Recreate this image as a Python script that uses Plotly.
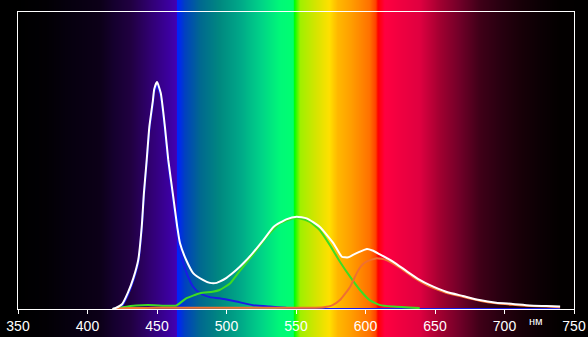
import base64, struct, zlib
import plotly.graph_objects as go

# ---------------- data ----------------
white_wl = [418, 420, 425, 429, 433, 436.5, 439, 440.6, 442.6, 444.5, 447, 448, 450, 452.7, 455.7, 458.1,
            461.3, 464.6, 466.5, 471, 476, 483, 488, 493, 495, 500, 507, 513, 519, 526.5, 534, 543,
            550.5, 557.7, 567, 577, 583, 587.6, 591, 596, 601, 605, 610, 620, 630, 639, 646, 658,
            670, 682, 694, 706, 718, 730, 740]
white_val = [0.0, 0.003, 0.017, 0.054, 0.104, 0.165, 0.276, 0.391, 0.502, 0.613, 0.70, 0.74, 0.764, 0.727,
             0.613, 0.502, 0.391, 0.276, 0.222, 0.165, 0.121, 0.098, 0.088, 0.088, 0.092, 0.105, 0.131,
             0.158, 0.189, 0.232, 0.277, 0.302, 0.311, 0.305, 0.277, 0.221, 0.176, 0.174, 0.182, 0.193,
             0.202, 0.197, 0.185, 0.159, 0.126, 0.098, 0.081, 0.058, 0.044, 0.030, 0.021, 0.017, 0.012,
             0.010, 0.008]

blue_wl = [418, 425, 429, 433, 436.5, 439, 440.6, 442.6, 444.5, 447, 448, 450, 452.7, 455.7, 458.1, 461.3,
           464.6, 467, 471.4, 476, 481, 488, 495, 507, 519, 531, 543, 553, 565, 740]
blue_val = [0.0, 0.012, 0.047, 0.096, 0.156, 0.266, 0.381, 0.492, 0.603, 0.69, 0.73, 0.752, 0.715, 0.60,
            0.488, 0.375, 0.255, 0.19, 0.12, 0.075, 0.053, 0.04, 0.036, 0.025, 0.013, 0.008, 0.004, 0.002,
            0.0, 0.0]

green_wl = [418, 425, 435, 448, 455, 464, 471, 481, 490, 495, 502.5, 510, 519, 529, 538.5, 548, 553, 560,
            567, 574.4, 581.6, 589, 596, 603, 610.5, 620, 639]
green_val = [0.0, 0.006, 0.012, 0.013, 0.011, 0.012, 0.036, 0.053, 0.058, 0.064, 0.086, 0.131, 0.182, 0.243,
             0.288, 0.305, 0.305, 0.293, 0.266, 0.215, 0.159, 0.108, 0.064, 0.030, 0.013, 0.008, 0.003]

red_wl = [418, 430, 450, 500, 560, 570, 576, 581.6, 589, 593.6, 597, 601, 608, 615, 625, 634, 646, 658, 670,
          682, 694, 706, 718, 730, 740]
red_val = [0.0, 0.003, 0.004, 0.004, 0.004, 0.006, 0.012, 0.03, 0.075, 0.12, 0.145, 0.16, 0.171, 0.165,
           0.138, 0.108, 0.076, 0.055, 0.041, 0.028, 0.019, 0.014, 0.010, 0.008, 0.006]

x_ticks = [350, 400, 450, 500, 550, 600, 650, 700, 750]
unit_label = "нм"

# background spectrum colour stops (wavelength, colour)
bg_wl = [300, 350, 370, 390, 409, 420, 431, 445, 459, 464, 464.6, 470, 481, 495, 510, 524, 538.5, 548, 549,
         553, 565, 574, 580, 589, 603, 607.5, 609, 614, 625, 639, 654, 668, 682, 697, 711, 725, 740, 800]
bg_col = ["#000000", "#000000", "#020004", "#070010", "#0c0018", "#160030", "#200040", "#300070", "#3c00a0",
          "#4200b4", "#0020ff", "#0040c0", "#006890", "#008880", "#00a888", "#00d088", "#00f878", "#00ff70",
          "#00ff00", "#9ff000", "#d8e400", "#ffe000", "#ffb800", "#ffa000", "#ff7000", "#ff4000", "#ff0000",
          "#ff0040", "#f00040", "#e00040", "#a00030", "#700028", "#400018", "#280010", "#180008", "#0c0004",
          "#030000", "#000000"]

# ---------------- layout geometry ----------------
FIG_W, FIG_H = 588, 337
ML, MR, MT, MB = 18, 14, 12, 28
PW, PH = FIG_W - ML - MR, FIG_H - MT - MB
X0, X1 = 350, 750


def hex2rgb(h):
    return tuple(int(h[i:i + 2], 16) for i in (1, 3, 5))


def colour_at(w):
    for i in range(len(bg_wl) - 1):
        if bg_wl[i] <= w <= bg_wl[i + 1]:
            a, b = hex2rgb(bg_col[i]), hex2rgb(bg_col[i + 1])
            t = (w - bg_wl[i]) / (bg_wl[i + 1] - bg_wl[i]) if bg_wl[i + 1] > bg_wl[i] else 0
            return tuple(int(round(a[k] + (b[k] - a[k]) * t)) for k in range(3))
    return (0, 0, 0)


row = []
for i in range(FIG_W):
    w = X0 + (i + 0.5 - ML) * (X1 - X0) / PW
    row.extend(colour_at(w))
rows = [row, row]


def make_png(w, h, rows):
    raw = b"".join(b"\x00" + bytes(r) for r in rows)

    def chunk(t, d):
        c = struct.pack(">I", len(d)) + t + d
        return c + struct.pack(">I", zlib.crc32(t + d) & 0xffffffff)
    return (b"\x89PNG\r\n\x1a\n" + chunk(b"IHDR", struct.pack(">IIBBBBB", w, h, 8, 2, 0, 0, 0))
            + chunk(b"IDAT", zlib.compress(raw)) + chunk(b"IEND", b""))


png_uri = "data:image/png;base64," + base64.b64encode(make_png(FIG_W, 2, rows)).decode()

fig = go.Figure()
line_kw = dict(shape="spline", smoothing=0.5)
fig.add_trace(go.Scatter(x=blue_wl, y=blue_val, mode="lines", line=dict(color="#1a1ae6", width=2, **line_kw)))
fig.add_trace(go.Scatter(x=green_wl, y=green_val, mode="lines", line=dict(color="#3ddc22", width=2, **line_kw)))
fig.add_trace(go.Scatter(x=red_wl, y=red_val, mode="lines", line=dict(color="#f07030", width=2, **line_kw)))
fig.add_trace(go.Scatter(x=white_wl, y=white_val, mode="lines", line=dict(color="#ffffff", width=2, **line_kw)))

fig.add_layout_image(dict(source=png_uri, xref="paper", yref="paper", x=-ML / PW, y=1 + MT / PH,
                          sizex=FIG_W / PW, sizey=FIG_H / PH, xanchor="left", yanchor="top",
                          sizing="stretch", layer="below"))

fig.add_annotation(x=723, y=-(12 / PH), xref="x", yref="paper", text=unit_label, showarrow=False,
                   font=dict(color="white", size=11, family="Liberation Sans, Arial"), yanchor="middle")

fig.update_layout(
    width=FIG_W, height=FIG_H,
    margin=dict(l=ML, r=MR, t=MT, b=MB, pad=0, autoexpand=False),
    paper_bgcolor="black", plot_bgcolor="rgba(0,0,0,0)",
    showlegend=False,
    xaxis=dict(range=[X0, X1], tickvals=x_ticks, ticktext=[str(v) for v in x_ticks], showgrid=False,
               zeroline=False, showline=True, mirror=True, linecolor="white", linewidth=1,
               ticks="outside", ticklen=4, tickcolor="white", tickwidth=1, automargin=False,
               tickfont=dict(color="white", size=14, family="Liberation Sans, Arial"),
               layer="below traces"),
    yaxis=dict(range=[0, 1.0], showgrid=False, zeroline=False, showticklabels=False, showline=True,
               mirror=True, linecolor="white", linewidth=1, ticks="", layer="below traces",
               automargin=False),
)

fig.write_html("out.html")
